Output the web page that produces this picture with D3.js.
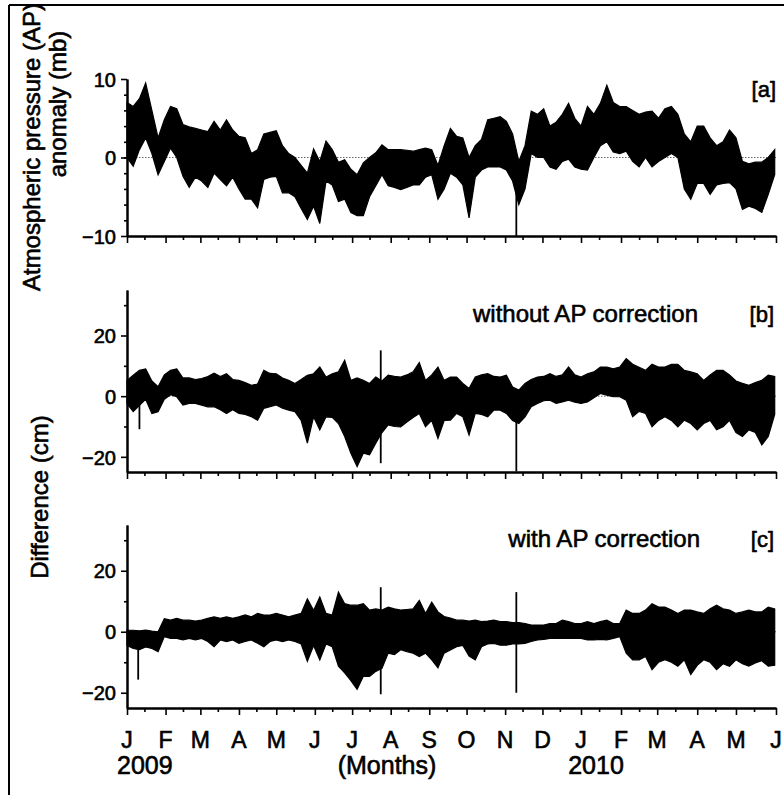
<!DOCTYPE html>
<html>
<head>
<meta charset="utf-8">
<script src="https://cdn.jsdelivr.net/npm/d3@7"></script>
<style>
  body { margin: 0; background: #fff; }
  svg { display: block; }
  text { font-family: "Liberation Sans", Arial, sans-serif; fill: #000; stroke: #000; stroke-width: 0.6px; }
</style>
</head>
<body>
<svg id="chart" width="784" height="795"></svg>
<script>
// month letters under the axis, J 2009 .. J 2010
const monthLabels = ["J","F","M","A","M","J","J","A","S","O","N","D","J","F","M","A","M","J"];

// envelope of the hourly record, read every 5 days (upper / lower value)
const apHigh = [7, 6.5, 7.5, 9.5, 6, 2.5, 4.8, 6.5, 6.2, 4.2, 3.9, 3.7, 3.5, 3.3, 4.6, 3.5, 4.8, 3.5, 2.7, 2.5,
  0.5, 1, 3, 3.2, 3.4, 1.5, 0.5, 0, -1, -2, 1.1, -0.5, 2.1, 1, -0.6, -0.3, -1.5, -2.2, -0.7, 0,
  0.6, 1.6, 1, 1, 1, 0.9, 0.8, 1, 1.2, 1, -1, 1.5, 3.7, 2.7, 2.5, 0, 1.5, 2.3, 4.8, 5,
  5.2, 4.6, 3, -0.5, 1.5, 5.9, 5.5, 6.2, 4, 4.5, 5.5, 6.9, 5, 4, 6.5, 5.5, 6.9, 9.2, 7, 6.5,
  6.5, 6, 5.5, 5.8, 5.9, 5, 6.2, 6.5, 5.5, 3, 2, 4, 4, 2.5, 1.5, 2, 3.5, 2.5, -0.5, -0.8,
  -0.6, -0.6, 0, 1];
const apLow = [0, -1.1, 1, 2.5, 0.5, -2.2, -0.5, 1.2, 0, -2.4, -3.8, -2.5, -3, -3.8, -2, -2.8, -3.6, -2.5, -4, -5.3,
  -5.3, -6.4, -2.8, -2.5, -2.4, -4.5, -4.5, -5, -6.5, -7.9, -6.2, -8.4, -3, -3.5, -5.6, -5.3, -7, -7.4, -7.4, -5,
  -3.6, -2.2, -3.6, -3.8, -4.1, -3.8, -3.5, -3.5, -2.5, -2.2, -5.3, -4, -2, -2.5, -3.5, -7.7, -2.5, -1.6, -1.2, -1.2,
  -1.2, -1.6, -3, -6, -4, 0.5, 0, 0, -1.2, -1.5, -0.5, -0.2, -1.2, -1.5, -1.6, 0, 1.5, 2, 0.7, 0.5,
  0.8, -0.5, -1.2, 0, -1.2, -0.5, 0, 0.5, 0, -4, -5.3, -3.3, -3.3, -4.7, -3.5, -3.3, -3.2, -4, -6.6, -6.2,
  -6.5, -7, -4.7, -2.2];

const rawHigh = [5.2, 6.9, 8.5, 9, 5, 3.1, 7, 8.5, 9, 6, 6, 5.5, 5.8, 6.5, 7.6, 6.5, 7.4, 5.5, 5.2, 4.5,
  3.6, 4, 8.5, 7.5, 7.4, 6, 5.2, 4.2, 5.5, 6.9, 7.4, 9.6, 6.3, 7.4, 8, 11.8, 5.2, 6, 5.2, 4.2,
  6.3, 5, 6.9, 6.5, 6.3, 7, 8, 11.1, 5.2, 7, 9.6, 5.2, 6.3, 6.3, 4.2, 2.5, 6.3, 7, 7.4, 6.5,
  6.3, 6.9, 3, 2, 4.2, 5.5, 6.3, 6.5, 7.4, 6.5, 7, 9.6, 7, 6.3, 7.4, 8, 9.6, 9.6, 9, 9.6,
  12.4, 10.5, 9.5, 8.5, 10.5, 9.6, 9.6, 10.5, 10.5, 8.5, 8, 7.4, 5.2, 7, 8.5, 8.5, 7, 5, 4.2, 3.6,
  4.5, 5.2, 6.9, 6.5];
const rawLow = [-2.4, -5.1, -3, -1, -5.7, -5.1, -1, 0.5, -0.2, -2.9, -2.4, -2.4, -3, -3.5, -3.5, -4.5, -5.7, -4.5, -5.7, -6,
  -6.8, -7.9, -4, -3.5, -2.9, -4, -4.6, -5.1, -8, -15.5, -6.8, -11.1, -6.8, -7, -9, -13.3, -18.8, -23.2, -18.8, -19.3,
  -15.5, -12, -9.5, -10, -10.1, -8.5, -7, -5.7, -10.1, -8, -13.9, -8, -7.9, -5.7, -6.8, -12.8, -5.7, -6, -6.8, -4.6,
  -4.6, -5.7, -8, -9, -6.8, -3.5, -2.4, -1.5, -1.3, -2.4, -1.9, -1.3, -2, -2.4, -1.9, -0.5, 0.9, 0.3, -0.2, -0.2,
  -1.3, -6.8, -5, -5.7, -10.1, -8, -6.8, -8, -10.1, -7.9, -9, -11.1, -9, -8, -11.1, -10.1, -8, -12, -13.3, -11.1,
  -12, -16.1, -13.3, -6];

const corHigh = [0.5, 0.5, 0.3, 0.5, 0.2, 0, 4.3, 3.8, 4.4, 3.8, 3.8, 3.5, 3.8, 4.4, 4.9, 4.4, 4.9, 4.4, 4.9, 5.5,
  4.9, 6, 5.5, 5.5, 6, 5.5, 4.9, 5.5, 6, 10.8, 7, 11.4, 6, 5.5, 13, 9.2, 8.7, 8.7, 9.2, 7.1,
  7.5, 7.1, 8.1, 7.5, 7.1, 7.3, 7.5, 10.3, 6, 9.7, 6.5, 5, 4.5, 3.8, 3.8, 3.5, 3.8, 3.3, 3.5, 3.8,
  3.3, 3.3, 3, 3, 2.7, 2.2, 2.2, 2.2, 2.7, 2.7, 3.8, 3.3, 2.7, 2.7, 3.3, 2.7, 3.3, 3.8, 2.7, 2.7,
  7.1, 6, 6, 7.1, 9.2, 8.1, 8.1, 7.1, 6, 7.1, 7.1, 6.5, 6, 7.5, 8.7, 7.5, 7.1, 6, 6.5, 7.1,
  6.5, 6.5, 8.1, 7.5];
const corLow = [-4.5, -5.5, -5.9, -5, -5.5, -6.5, -1.6, -2.2, -2.2, -2.7, -2.2, -2.7, -2.2, -3.2, -4.9, -2.7, -3.2, -2.7, -3.8, -3.2,
  -2.7, -3.8, -4.9, -3.2, -2.7, -3.2, -2.7, -3.2, -4, -9.7, -4.5, -9.2, -4, -4.9, -11.3, -13.5, -16, -18.9, -14.6, -14.6,
  -13, -12, -7, -7.5, -5.9, -6.5, -7, -8.1, -7, -9.2, -11.8, -7, -6, -4.9, -4.5, -8, -9.2, -4.9, -4, -3.8,
  -4.4, -4.4, -4, -4, -3.8, -3.2, -2.7, -2.5, -2.2, -2.2, -2.2, -2.2, -2.2, -2.2, -2.7, -2.7, -2.5, -2.7, -2.2, -1.6,
  -7, -9.2, -9.2, -8.1, -12.4, -10, -9.2, -10, -11.3, -9.2, -14, -11, -9.2, -10, -12.4, -10.5, -11.3, -9.2, -10.5, -11.3,
  -10.2, -9.5, -11.3, -11];

// single spikes
const apSpikeDates = ["2009-11-10"];
const apSpikeHigh = [-2];
const apSpikeLow = [-10];
const rawSpikeDates = ["2009-01-11", "2009-07-24", "2009-11-10"];
const rawSpikeHigh = [2, 15.1, 0];
const rawSpikeLow = [-10.9, -22.1, -24.8];
const corSpikeDates = ["2009-01-10", "2009-07-24", "2009-11-10"];
const corSpikeHigh = [0, 14.6, 13];
const corSpikeLow = [-15.7, -20.5, -20];

const parse = d3.timeParse("%Y-%m-%d");
const t0 = new Date(2009, 0, 1), tYear = new Date(2010, 0, 1), t1 = new Date(2010, 5, 1);
const sampleDates = d3.timeDay.range(t0, t1, 5);

const svg = d3.select("#chart");

// frame (left and top edge of the scanned figure)
svg.append("line").attr("x1", 9).attr("y1", 5).attr("x2", 784).attr("y2", 5)
  .attr("stroke", "#000").attr("stroke-width", 2);
svg.append("line").attr("x1", 9).attr("y1", 5).attr("x2", 9).attr("y2", 795)
  .attr("stroke", "#000").attr("stroke-width", 2);

const x = d3.scaleTime().domain([t0, tYear, t1]).range([127, 581, 776]);

const monthTicks = d3.timeMonth.range(t0, d3.timeDay.offset(t1, 1));
const midTicks = d3.timeMonth.range(t0, t1).map(d => d3.timeDay.offset(d, 14));

const panels = [
  {top: 79, bottom: 236, domain: [-10, 10], major: [-10, 0, 10], minor: d3.range(-8, 10, 2),
   hi: apHigh, lo: apLow, sd: apSpikeDates, sh: apSpikeHigh, sl: apSpikeLow},
  {top: 290, bottom: 472, domain: [-25, 35], major: [-20, 0, 20], minor: [-10, 10, 30],
   hi: rawHigh, lo: rawLow, sd: rawSpikeDates, sh: rawSpikeHigh, sl: rawSpikeLow},
  {top: 525, bottom: 708, domain: [-25, 35], major: [-20, 0, 20], minor: [-10, 10, 30],
   hi: corHigh, lo: corLow, sd: corSpikeDates, sh: corSpikeHigh, sl: corSpikeLow}
];

panels.forEach(p => {
  const y = d3.scaleLinear().domain(p.domain).range([p.bottom, p.top]);
  const g = svg.append("g");

  // dotted zero line
  g.append("line")
    .attr("x1", x(t0)).attr("x2", x(t1)).attr("y1", y(0)).attr("y2", y(0))
    .attr("stroke", "#666").attr("stroke-width", 1).attr("stroke-dasharray", "1.5,1.5");

  const rows = sampleDates.map((d, i) => ({d, hi: p.hi[i], lo: p.lo[i]}));
  const area = d3.area().x(r => x(r.d)).y0(r => y(r.lo)).y1(r => y(r.hi));
  g.append("path").datum(rows)
    .attr("d", area)
    .attr("fill", "#000").attr("stroke", "#000").attr("stroke-width", 1.2)
    .attr("stroke-linejoin", "miter");

  p.sd.forEach((s, i) => {
    const xs = x(parse(s));
    g.append("line").attr("x1", xs).attr("x2", xs)
      .attr("y1", y(p.sh[i])).attr("y2", y(p.sl[i]))
      .attr("stroke", "#000").attr("stroke-width", 1.8);
  });

  // y axis: major and minor ticks
  const yMajor = d3.axisLeft(y).tickValues(p.major).tickSize(6).tickPadding(5).tickSizeOuter(0);
  const yMinor = d3.axisLeft(y).tickValues(p.minor).tickSize(3).tickFormat("").tickSizeOuter(0);
  const ga = g.append("g").attr("transform", `translate(${x(t0)},0)`);
  ga.call(yMinor);
  ga.append("g").call(yMajor);
  ga.selectAll("text").style("font-size", "20px").attr("dy", "0.36em");

  // x axis
  const xMajor = d3.axisBottom(x).tickValues(monthTicks).tickSize(7).tickFormat("").tickSizeOuter(0);
  const xMinor = d3.axisBottom(x).tickValues(midTicks).tickSize(4).tickFormat("").tickSizeOuter(0);
  const gx = g.append("g").attr("transform", `translate(0,${p.bottom})`);
  gx.call(xMinor);
  gx.append("g").call(xMajor);

  g.selectAll(".domain").attr("stroke", "#000").attr("stroke-width", 2);
  g.selectAll(".tick line").attr("stroke", "#000").attr("stroke-width", 1.6);
  g.selectAll(".tick text").style("fill", "#000");
});

// month letters
svg.append("g").selectAll("text").data(monthTicks).join("text")
  .attr("x", d => x(d)).attr("y", 748)
  .attr("text-anchor", "middle").style("font-size", "23px")
  .text((d, i) => monthLabels[i]);

svg.append("text").attr("x", 117).attr("y", 774).style("font-size", "25px").text("2009");
svg.append("text").attr("x", 387).attr("y", 774).attr("text-anchor", "middle").style("font-size", "25px").text("(Months)");
svg.append("text").attr("x", 596).attr("y", 774).attr("text-anchor", "middle").style("font-size", "25px").text("2010");

// panel captions
svg.append("text").attr("x", 776).attr("y", 97).attr("text-anchor", "end").style("font-size", "22px").text("[a]");
svg.append("text").attr("x", 698).attr("y", 322).attr("text-anchor", "end").style("font-size", "24px").text("without AP correction");
svg.append("text").attr("x", 774).attr("y", 322).attr("text-anchor", "end").style("font-size", "22px").text("[b]");
svg.append("text").attr("x", 700).attr("y", 547).attr("text-anchor", "end").style("font-size", "24px").text("with AP correction");
svg.append("text").attr("x", 774).attr("y", 547).attr("text-anchor", "end").style("font-size", "22px").text("[c]");

// y titles
svg.append("text").attr("transform", "translate(40,147) rotate(-90)")
  .attr("text-anchor", "middle").style("font-size", "24px").text("Atmospheric pressure (AP)");
svg.append("text").attr("transform", "translate(66,104) rotate(-90)")
  .attr("text-anchor", "middle").style("font-size", "24px").text("anomaly (mb)");
svg.append("text").attr("transform", "translate(48,497) rotate(-90)")
  .attr("text-anchor", "middle").style("font-size", "24px").text("Difference (cm)");
</script>
</body>
</html>
